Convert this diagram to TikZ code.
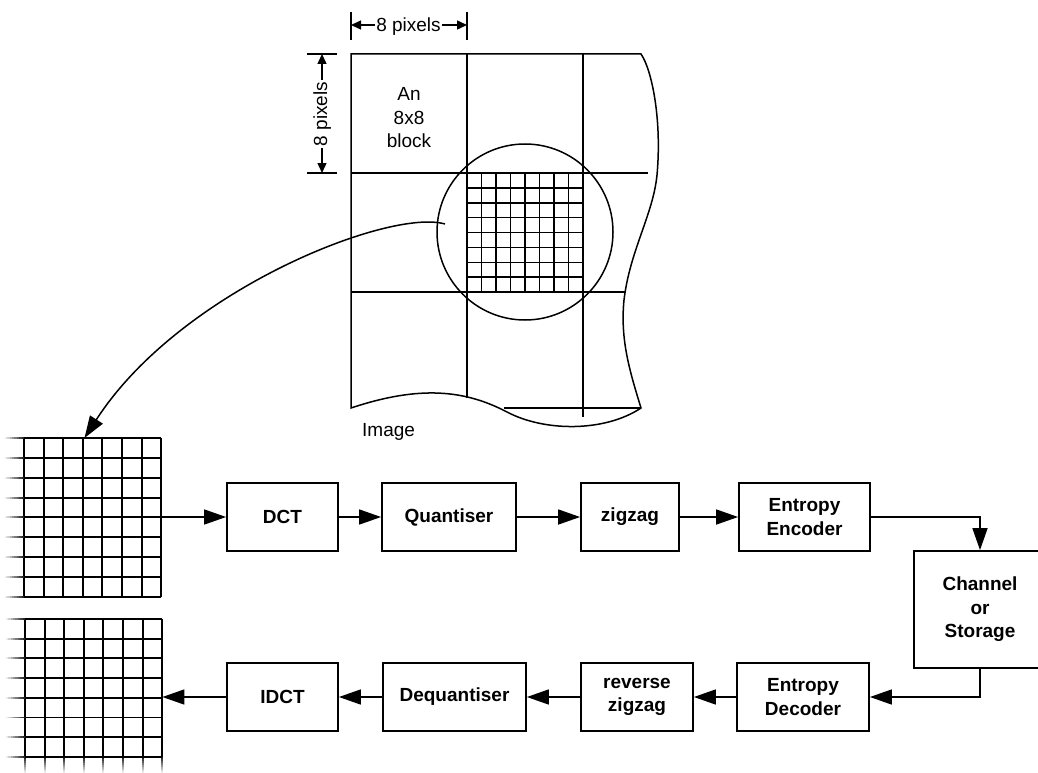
\documentclass[tikz,border=0pt]{standalone}
\usepackage{fontspec}
\setmainfont{Liberation Sans}
\usetikzlibrary{arrows.meta,calc}

\begin{document}
\begin{tikzpicture}[x=1pt,y=-1pt,
  every node/.style={font=\fontsize{19pt}{23.5pt}\selectfont},
  blk/.style={draw, line width=1.8pt, inner sep=0pt, align=center,
              font=\fontsize{19pt}{23.5pt}\selectfont\bfseries},
  flow/.style={line width=1.6pt, -{Triangle[length=22pt,width=15pt]}},
  dimarrow/.style={line width=1.4pt, -{Triangle[length=10pt,width=9pt]}},
  thinline/.style={line width=1.5pt},
  gridline/.style={line width=1.9pt},
  fineline/.style={line width=1.5pt}
]
\useasboundingbox (0,0) rectangle (1038,773);
\clip (0,0) rectangle (1038,773);

% ---------- the image with its 8x8 blocks ----------
\draw[thinline] (351,54) -- (641,54)
  .. controls (652,70) and (662,120) .. (657,175)
  .. controls (653,215) and (630,250) .. (624,300)
  .. controls (620,340) and (630,372) .. (641,408)
  .. controls (605,432) and (545,432) .. (507,412)
  .. controls (465,390) and (420,385) .. (351,408) -- cycle;
\draw[thinline] (467,54) -- (467,398);
\draw[thinline] (583,54) -- (583,417);
\draw[thinline] (351,173) -- (648,173);
\draw[thinline] (351,292) -- (625,292);
\draw[thinline] (504,408) -- (641,408);

% magnified block: 8x8 pixels inside a circle
\foreach \i in {0,...,8}{
  \draw[fineline] ({467+14.5*\i},173) -- ({467+14.5*\i},292);
  \draw[fineline] (467,{173+14.875*\i}) -- (583,{173+14.875*\i});
}
\draw[thinline] (525,232) circle[radius=88];

\node[align=center, inner sep=0pt] (blocklabel) at (409,118) {An\\8x8\\block};
\node[anchor=base west, inner sep=0pt] (imglabel) at (362,436) {Image};

% ---------- dimension marks ----------
\draw[thinline] (351,12) -- (351,40);
\draw[thinline] (467,12) -- (467,40);
\coordinate (hl) at (351,25);
\coordinate (hr) at (467,25);
\node[anchor=base, inner sep=1.5pt] (hlab) at (408.5,32) {8 pixels};
\draw[dimarrow] (hlab.west |- hl) -- (hl);
\draw[dimarrow] (hlab.east |- hr) -- (hr);

\draw[thinline] (307,54) -- (337,54);
\draw[thinline] (307,173) -- (337,173);
\coordinate (vt) at (322,54);
\coordinate (vb) at (322,173);
\node[rotate=90, anchor=base, inner sep=1.5pt] (vlab) at (327,114) {8 pixels};
\draw[dimarrow] (vt |- vlab.east) -- (vt);
\draw[dimarrow] (vb |- vlab.west) -- (vb);

% ---------- input block grid (left edge fading out) ----------
\foreach \i in {0,...,7}
  \draw[gridline] ({24+19.6*\i},438) -- ({24+19.6*\i},597);
\foreach \j in {0,...,8}{
  \draw[gridline] (24,{438+19.85*\j}) -- (161.2,{438+19.85*\j});
  \foreach \k [evaluate=\k as \pc using {int(85-11*\k)}] in {0,...,7}
    \draw[gridline, draw=black!\pc] ({24-2.4*\k},{438+19.85*\j}) -- ({24-2.4*(\k+1)},{438+19.85*\j});
}
\node[inner sep=0pt, minimum width=137.2pt, minimum height=159pt] (gridA) at (92.6,517.5) {};

% ---------- output block grid (left and bottom edges fading out) ----------
\foreach \i in {0,...,7}{
  \draw[gridline] ({25+19.6*\i},619) -- ({25+19.6*\i},757);
  \foreach \k [evaluate=\k as \pc using {int(85-11*\k)}] in {0,...,7}
    \draw[gridline, draw=black!\pc] ({25+19.6*\i},{757+2*\k}) -- ({25+19.6*\i},{757+2*(\k+1)});
}
\foreach \j in {0,...,6}{
  \draw[gridline] (25,{619+19.7*\j}) -- (162.2,{619+19.7*\j});
  \foreach \k [evaluate=\k as \pc using {int(85-11*\k)}] in {0,...,7}
    \draw[gridline, draw=black!\pc] ({25-2.4*\k},{619+19.7*\j}) -- ({25-2.4*(\k+1)},{619+19.7*\j});
}
\draw[gridline] (25,757) -- (162.2,757);
\foreach \k [evaluate=\k as \pc using {int(85-11*\k)}] in {0,...,7}
  \draw[gridline, draw=black!\pc] ({25-2.4*\k},757) -- ({25-2.4*(\k+1)},757);
\node[inner sep=0pt, minimum width=137.2pt, minimum height=157pt] (gridB) at (93.6,697) {};

% ---------- processing chain ----------
\node[blk, minimum width=111pt, minimum height=68pt] (dct)   at (282.5,517) {DCT};
\node[blk, minimum width=134pt, minimum height=68pt] (quant) at (449,517)   {Quantiser};
\node[blk, minimum width=98pt,  minimum height=68pt] (zz)    at (630,517)   {zigzag};
\node[blk, minimum width=131pt, minimum height=68pt] (ee)    at (804.5,517) {Entropy\\Encoder};
\node[blk, minimum width=132pt, minimum height=117pt] (chan) at (980,609.5) {Channel\\or\\Storage};
\node[blk, minimum width=132pt, minimum height=68pt] (ed)    at (803,697)   {Entropy\\Decoder};
\node[blk, minimum width=112pt, minimum height=68pt] (rzz)   at (637,697)   {reverse\\zigzag};
\node[blk, minimum width=143pt, minimum height=68pt] (deq)   at (454.5,697) {Dequantiser};
\node[blk, minimum width=111pt, minimum height=68pt] (idct)  at (282.5,697) {IDCT};

\draw[flow] (gridA.east |- dct.west) -- (dct.west);
\draw[flow] (dct.east) -- (quant.west);
\draw[flow] (quant.east) -- (zz.west);
\draw[flow] (zz.east) -- (ee.west);
\draw[flow] (ee.east) -| (chan.north);
\draw[flow] (chan.south) |- (ed.east);
\draw[flow] (ed.west) -- (rzz.east);
\draw[flow] (rzz.west) -- (deq.east);
\draw[flow] (deq.west) -- (idct.east);
\draw[flow] (idct.west) -- (idct.west -| gridB.east);

% ---------- magnified block taken out of the image ----------
\coordinate (pick) at (445,224);
\coordinate (drop) at (84.5,438);
\draw[flow, line width=1.5pt] (pick) .. controls (390,208) and (180,290) .. (drop);
\end{tikzpicture}
\end{document}
